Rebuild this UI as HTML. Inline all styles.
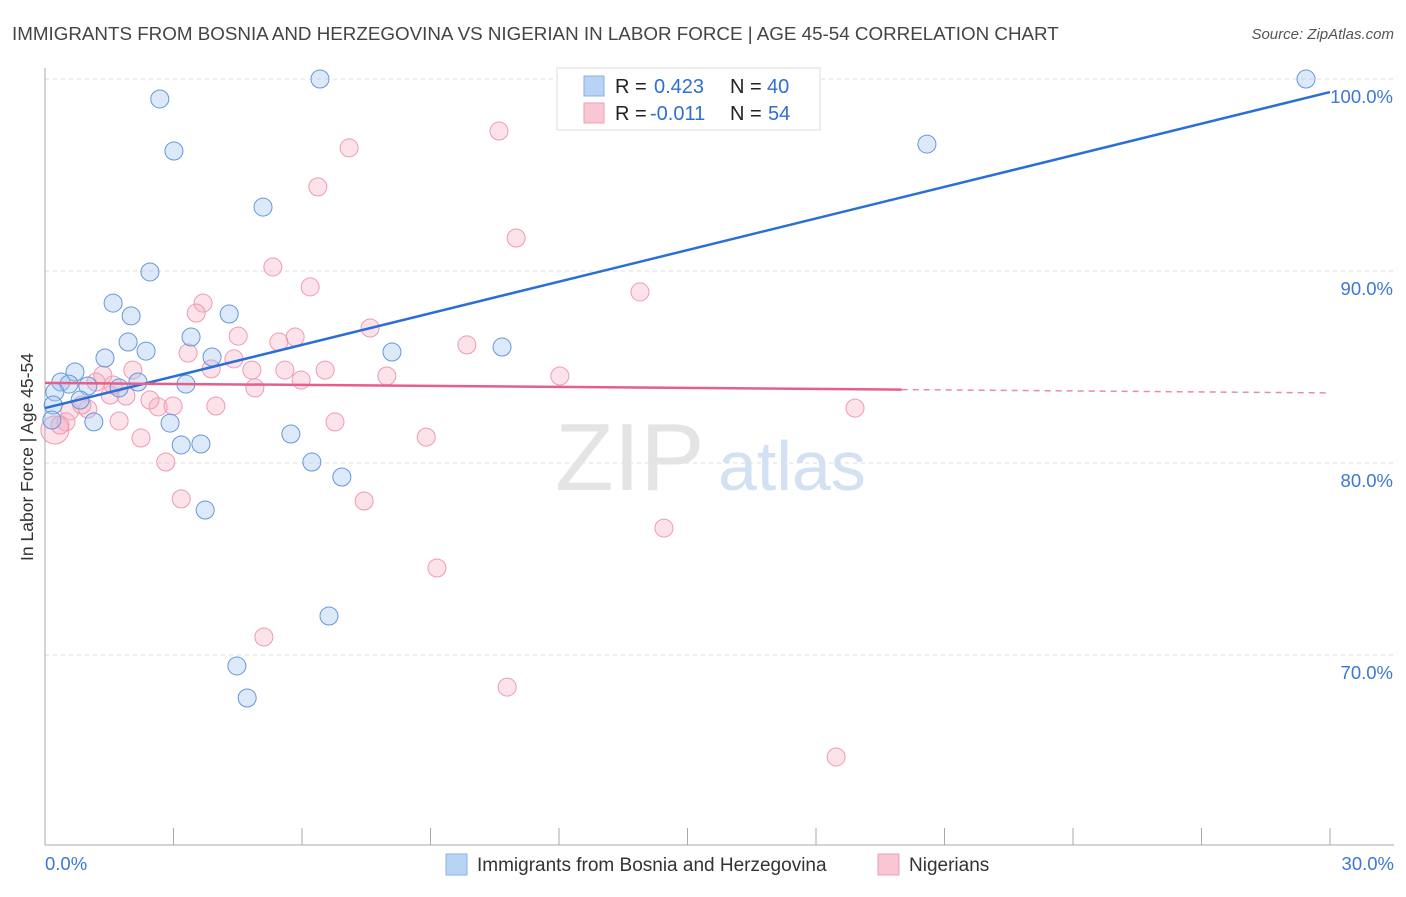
<!DOCTYPE html>
<html><head><meta charset="utf-8"><style>
body{margin:0;background:#fff;font-family:"Liberation Sans",sans-serif;}
svg text{font-family:"Liberation Sans",sans-serif;}
</style></head><body>
<svg id="chart" width="1406" height="892" xmlns="http://www.w3.org/2000/svg">
<text x="12" y="40" font-size="18.8" fill="#444">IMMIGRANTS FROM BOSNIA AND HERZEGOVINA VS NIGERIAN IN LABOR FORCE | AGE 45-54 CORRELATION CHART</text>
<text x="1394" y="39" font-size="15" fill="#555" text-anchor="end" font-style="italic">Source: ZipAtlas.com</text>
<text transform="translate(33,457) rotate(-90)" font-size="17.5" fill="#333" text-anchor="middle">In Labor Force | Age 45-54</text>
<g id="grid"></g>
<text x="555" y="490" font-size="96" fill="#e4e4e4" font-family="Liberation Serif">ZIP</text>
<text x="718" y="490" font-size="70" fill="#d3e1f3">atlas</text>
<g id="pts"></g>
<g id="lines"></g>
<g id="legend">
<rect x="557" y="68" width="263" height="62" fill="#fff" stroke="#ddd"/>
<rect x="584" y="76" width="20" height="20" fill="#b9d3f5" stroke="#8ab0e6"/>
<rect x="584" y="103" width="20" height="20" fill="#f9c6d4" stroke="#ee9fb6"/>
<text x="615" y="93" font-size="20" fill="#222">R = <tspan fill="#2f6fd0" x="654">0.423</tspan></text>
<text x="730" y="93" font-size="20" fill="#222">N = <tspan fill="#2f6fd0" x="767">40</tspan></text>
<text x="615" y="120" font-size="20" fill="#222">R = <tspan fill="#2f6fd0" x="650">-0.011</tspan></text>
<text x="730" y="120" font-size="20" fill="#222">N = <tspan fill="#2f6fd0" x="768">54</tspan></text>
</g>
<g>
<rect x="446" y="854" width="21" height="21" fill="#b9d3f5" stroke="#8ab0e6"/>
<text x="477" y="871" font-size="19" fill="#333">Immigrants from Bosnia and Herzegovina</text>
<rect x="878" y="854" width="21" height="21" fill="#f9c6d4" stroke="#ee9fb6"/>
<text x="909" y="871" font-size="19" fill="#333">Nigerians</text>
</g>
</svg>
<script>
const yTicks=[100,90,80,70];
const xTickLabels=["0.0%","30.0%"];
const blueX=[6.42,2.68,3.01,5.09,2.45,1.59,2.01,4.30,3.41,1.94,2.36,1.40,3.90,8.10,10.67,0.70,0.37,0.56,1.00,1.73,2.17,3.29,0.23,0.82,0.19,1.14,2.92,3.18,3.64,5.74,6.23,6.93,3.74,6.63,4.48,4.72,20.59,29.44,15.36,0.16];
const blueY=[100,98.96,96.25,93.33,89.95,88.33,87.66,87.76,86.56,86.30,85.83,85.47,85.52,85.78,86.04,84.74,84.22,84.11,84.01,83.91,84.22,84.11,83.70,83.28,83.02,82.14,82.08,80.94,80.99,81.51,80.05,79.27,77.55,72.03,69.43,67.76,96.61,100,99.95,82.24];
const pinkX=[16.55,10.60,7.10,6.37,11.00,5.32,6.19,13.89,3.69,3.53,7.59,4.51,5.84,5.46,9.85,3.34,4.41,3.88,4.83,5.60,6.54,1.35,2.05,7.98,12.02,5.98,1.19,4.90,1.52,1.89,2.45,2.64,2.99,3.99,1.00,0.58,18.91,0.49,1.73,6.77,8.90,2.24,2.82,3.18,7.45,14.45,9.15,5.11,10.79,18.47,0.23,0.35,0.86,1.59];
const pinkY=[99.95,97.29,96.41,94.38,91.72,90.21,89.17,88.91,88.33,87.81,87.03,86.61,86.56,86.30,86.15,85.73,85.42,84.90,84.84,84.84,84.84,84.58,84.84,84.53,84.53,84.32,84.22,83.91,83.54,83.49,83.28,82.92,82.97,82.97,82.81,82.71,82.86,82.14,82.19,82.14,81.35,81.30,80.05,78.13,78.02,76.61,74.53,70.94,68.33,64.69,81.72,81.98,83.02,84.06];
const blueTrend=[82.86,99.32];
const pinkTrend=[84.17,83.65];
const pinkSolidEnd=20;
const X=v=>45+v/30*1285, Y=v=>79+(100-v)*19.2;
const NS="http://www.w3.org/2000/svg";
function mk(t,a,p){const e=document.createElementNS(NS,t);for(const k in a)e.setAttribute(k,a[k]);p.appendChild(e);return e;}
const g=document.getElementById('grid');
yTicks.forEach(v=>{
 const l=mk('line',{x1:45,x2:1394,y1:Y(v),y2:Y(v),stroke:'#ddd','stroke-dasharray':'4,4'},g);
 
 
 const t=mk('text',{x:1393,y:Y(v)+24,'font-size':18.5,fill:'#3b78d4','text-anchor':'end'},g);t.textContent=v.toFixed(1)+'%';
 
 
});
const ax=mk('line',{x1:45,x2:45,y1:68,y2:845,stroke:'#aaa'},g);


const bx=mk('line',{x1:45,x2:1394,y1:845,y2:845,stroke:'#aaa'},g);


for(let i=0;i<=10;i++){const l=mk('line',{x1:X(i*3),x2:X(i*3),y1:828,y2:845,stroke:'#aaa'},g);
 
 }
[[0,'start',45],[30,'end',1394]].forEach((d,i)=>{const t=mk('text',{x:d[2],y:870,'font-size':18.5,fill:'#3b78d4','text-anchor':d[1]},g);t.textContent=xTickLabels[i];
 
 });
const p=document.getElementById('pts');
pinkX.forEach((v,i)=>{const c=mk('circle',{cx:X(v),cy:Y(pinkY[i]),r:i==50?14:9,fill:'rgba(246,170,192,0.33)',stroke:'#ee9ab2','stroke-width':1},p);
 
 });
blueX.forEach((v,i)=>{const c=mk('circle',{cx:X(v),cy:Y(blueY[i]),r:9,fill:'rgba(160,196,240,0.38)',stroke:'#6696dc','stroke-width':1},p);
 
 });
const L=document.getElementById('lines');
const bl=mk('line',{x1:X(0),y1:Y(blueTrend[0]),x2:X(30),y2:Y(blueTrend[1]),stroke:'#2a6fd6','stroke-width':2.5},L);


const pm=pinkTrend[0]+(pinkTrend[1]-pinkTrend[0])*pinkSolidEnd/30;
const pl=mk('line',{x1:X(0),y1:Y(pinkTrend[0]),x2:X(pinkSolidEnd),y2:Y(pm),stroke:'#e55f8a','stroke-width':2.5},L);


const pd=mk('line',{x1:X(pinkSolidEnd),y1:Y(pm),x2:X(30),y2:Y(pinkTrend[1]),stroke:'#e98aa8','stroke-width':1.5,'stroke-dasharray':'6,5'},L);


</script>
</body></html>
